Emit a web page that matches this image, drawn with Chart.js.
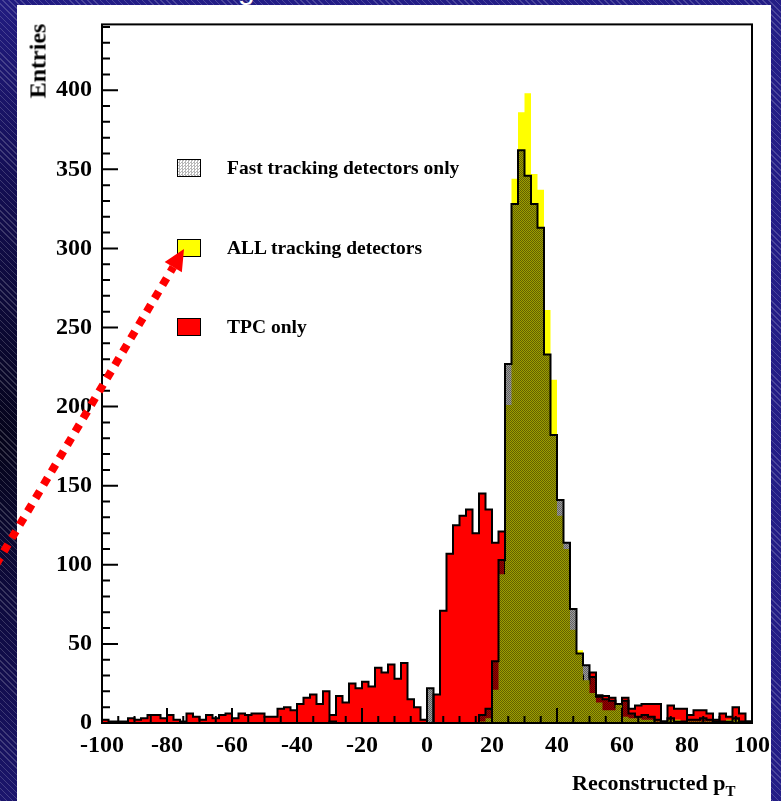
<!DOCTYPE html>
<html>
<head>
<meta charset="utf-8">
<script src="https://cdn.jsdelivr.net/npm/chart.js@4.4.0/dist/chart.umd.min.js"></script>
<style>
  html, body { margin: 0; padding: 0; }
  body {
    width: 781px; height: 801px; overflow: hidden; position: relative;
    background:
      repeating-linear-gradient(45deg, rgba(255,255,255,0.18) 0 1px, transparent 1px 4.3px),
      radial-gradient(ellipse 260px 460px at 0% 55%, #05041a 0%, #130e52 55%, #231d86 100%),
      #231d86;
    font-family: "Liberation Serif", "DejaVu Serif", serif;
  }
  #panel { position: absolute; left: 17px; top: 5px; width: 754px; height: 796px; background: #fff; }
  #topText { position: absolute; left: 238px; top: -26px; font: 30px "Liberation Sans", sans-serif; line-height: 30px; color: #fff; }
  #chartBox { position: absolute; left: 0; top: 0; width: 781px; height: 801px; }
  #yTitle {
    position: absolute; left: 38px; top: 61px; transform: translate(-50%, -50%) rotate(-90deg);
    font-weight: bold; font-size: 24px; white-space: nowrap; color: #000;
  }
  #xTitle { position: absolute; left: 572px; top: 770px; font-size: 22px; font-weight: bold; color: #000; white-space: nowrap; }
  #xTitle sub { font-size: 15px; vertical-align: -6px; }
  .key { position: absolute; left: 177px; width: 22px; height: 16px; border: 1.5px solid #000; }
  .keyText { position: absolute; left: 227px; height: 20px; line-height: 20px; font-weight: bold; font-size: 19.5px; color: #000; white-space: nowrap; }
  #arrow { position: absolute; left: 0; top: 0; pointer-events: none; }
</style>
</head>
<body>
<div id="topText">g</div>
<div id="panel"></div>
<div id="chartBox"><canvas id="histo" width="781" height="801"></canvas></div>
<div id="yTitle">Entries</div>
<div id="xTitle">Reconstructed p<sub>T</sub></div>
<div id="legendBox"></div>
<canvas id="arrow" width="781" height="801"></canvas>

<script>
// histogram binning: 100 bins of width 2 from -100 to 100
const xMin = -100;
const xMax = 100;
const binWidth = 2;
const xTicks = [-100, -80, -60, -40, -20, 0, 20, 40, 60, 80, 100];
const yTicks = [0, 50, 100, 150, 200, 250, 300, 350, 400];
const yMax = 441.6;

const seriesNames = ["Fast tracking detectors only", "ALL tracking detectors", "TPC only"];

// TPC only
const tpcOnly = [
  2, 1, 1, 1, 3, 2, 3, 5, 5, 3,
  5, 2, 1, 6, 4, 2, 5, 3, 5, 6,
  3, 6, 5, 6, 6, 4, 4, 9, 10, 8,
  12, 16, 18, 12, 20, 5, 17, 13, 25, 22,
  26, 23, 35, 32, 37, 28, 38, 15, 10, 2,
  0, 18, 71, 107, 125, 131, 135, 120, 145, 135,
  114, 121, 90, 70, 60, 55, 50, 45, 42, 40,
  38, 35, 33, 30, 25, 32, 17.6, 17, 16, 10,
  16, 9, 11, 12, 12, 12, 1, 11, 9, 9,
  5, 8, 8, 6, 2, 6, 4, 10, 6, 1
];

// ALL tracking detectors
const allTracking = [
  0, 0, 0, 0, 0, 0, 0, 0, 0, 0,
  0, 0, 0, 0, 0, 0, 0, 0, 0, 0,
  0, 0, 0, 0, 0, 0, 0, 0, 0, 0,
  0, 0, 0, 0, 0, 1, 0, 0, 0, 0,
  0, 0, 0, 0, 0, 0, 0, 0, 0, 0,
  0, 0, 0, 0, 0, 0, 0, 0, 1, 3,
  21, 94, 201, 344, 386, 398, 347, 337, 261, 217,
  131, 110, 59, 46, 27, 19, 13, 8, 8, 12,
  4, 3, 3, 2, 2, 1, 1, 2, 2, 1,
  1, 1, 1, 1, 0, 1, 2, 2, 1, 0
];

// Fast tracking detectors only
const fastTracking = [
  0, 0, 0, 0, 0, 0, 0, 0, 0, 0,
  0, 0, 0, 0, 0, 0, 0, 0, 0, 0,
  0, 0, 0, 0, 0, 0, 0, 0, 0, 0,
  0, 0, 0, 0, 0, 1, 0, 0, 0, 0,
  0, 0, 0, 0, 0, 0, 0, 0, 0, 0,
  22, 0, 0, 0, 0, 0, 0, 0, 5, 9,
  39, 103, 227, 328, 362, 346, 328, 313, 233, 182,
  141, 114, 72, 44, 36.5, 29, 16.6, 15, 14, 12,
  14, 6, 4, 5, 4, 2, 1, 3, 1, 1,
  2, 2, 3, 2, 1, 1, 1, 3, 1, 1
];

// step points at the low edge of each bin, closed at xMax
function toSteps(counts) {
  const pts = counts.map((c, i) => ({ x: xMin + i * binWidth, y: c }));
  pts.push({ x: xMax, y: counts[counts.length - 1] });
  return pts;
}

// fine dot pattern for the fast-tracking histogram
function dotPattern() {
  const c = document.createElement("canvas");
  c.width = 2; c.height = 2;
  const g = c.getContext("2d");
  g.fillStyle = "rgba(0,0,0,0.62)";
  g.fillRect(0, 0, 1, 1);
  g.fillRect(1, 1, 1, 1);
  g.fillStyle = "rgba(0,0,0,0.38)";
  g.fillRect(1, 0, 1, 1);
  g.fillRect(0, 1, 1, 1);
  return g.createPattern(c, "repeat");
}

// frame and inward ticks like the ROOT style axes
const frameTicks = {
  id: "frameTicks",
  afterDatasetsDraw(chart) {
    const { ctx, chartArea: a, scales: { x, y } } = chart;
    ctx.save();
    ctx.strokeStyle = "#000";
    ctx.lineWidth = 2;
    ctx.strokeRect(a.left, a.top, a.right - a.left, a.bottom - a.top);
    ctx.beginPath();
    for (let v = xMin; v <= xMax; v += 5) {
      const px = x.getPixelForValue(v);
      const len = xTicks.includes(v) ? 15 : 7;
      ctx.moveTo(px, a.bottom);
      ctx.lineTo(px, a.bottom - len);
    }
    for (let v = 0; v <= yMax; v += 10) {
      const py = y.getPixelForValue(v);
      const len = yTicks.includes(v) ? 16 : 8;
      ctx.moveTo(a.left, py);
      ctx.lineTo(a.left + len, py);
    }
    ctx.stroke();
    ctx.restore();
  }
};

const tickFont = { family: "Liberation Serif", size: 24, weight: "bold" };

new Chart(document.getElementById("histo"), {
  type: "line",
  data: {
    datasets: [
      {
        label: seriesNames[0],
        data: toSteps(fastTracking),
        stepped: true,
        fill: "origin",
        backgroundColor: dotPattern(),
        borderColor: "#000",
        borderWidth: 2,
        pointRadius: 0,
        order: 1
      },
      {
        label: seriesNames[1],
        data: toSteps(allTracking),
        stepped: true,
        fill: "origin",
        backgroundColor: "#ffff00",
        borderColor: "#ffff00",
        borderWidth: 0,
        pointRadius: 0,
        order: 2
      },
      {
        label: seriesNames[2],
        data: toSteps(tpcOnly),
        stepped: true,
        fill: "origin",
        backgroundColor: "#ff0000",
        borderColor: "#000",
        borderWidth: 2,
        pointRadius: 0,
        order: 3
      }
    ]
  },
  options: {
    responsive: false,
    animation: false,
    layout: { padding: { left: 0, right: 29, top: 22, bottom: 0 } },
    plugins: { legend: { display: false }, tooltip: { enabled: false } },
    scales: {
      x: {
        type: "linear",
        min: xMin,
        max: xMax,
        grid: { display: false, drawTicks: false },
        border: { display: false },
        afterBuildTicks: s => { s.ticks = xTicks.map(v => ({ value: v })); },
        ticks: { color: "#000", font: tickFont, padding: 8, maxRotation: 0, autoSkip: false },
        afterFit: s => { s.height = 78; }
      },
      y: {
        min: 0,
        max: yMax,
        grid: { display: false, drawTicks: false },
        border: { display: false },
        afterBuildTicks: s => { s.ticks = yTicks.map(v => ({ value: v })); },
        ticks: { color: "#000", font: tickFont, padding: 10, autoSkip: false },
        afterFit: s => { s.width = 102; }
      }
    }
  },
  plugins: [frameTicks]
});

// legend entries
const keyStyles = [
  { top: 159, bg: "repeating-conic-gradient(#b8b8b8 0 25%, #fff 0 50%) 0 0 / 3px 3px" },
  { top: 239, bg: "#ffff00" },
  { top: 318, bg: "#ff0000" }
];
const legendBox = document.getElementById("legendBox");
seriesNames.forEach((name, i) => {
  const k = document.createElement("div");
  k.className = "key";
  k.style.top = keyStyles[i].top + "px";
  k.style.background = keyStyles[i].bg;
  legendBox.appendChild(k);
  const t = document.createElement("div");
  t.className = "keyText";
  t.style.top = (keyStyles[i].top - 1) + "px";
  t.textContent = name;
  legendBox.appendChild(t);
});

// dotted red arrow pointing at the ALL tracking key
const ac = document.getElementById("arrow").getContext("2d");
const tip = { x: 184, y: 249 };
const tail = { x: -12, y: 578 };
const dx = tip.x - tail.x, dy = tip.y - tail.y;
const len = Math.hypot(dx, dy);
const ux = dx / len, uy = dy / len;
const base = { x: tip.x - 21 * ux, y: tip.y - 21 * uy };
ac.strokeStyle = "#ff0000";
ac.lineWidth = 8;
ac.setLineDash([8, 7.5]);
ac.beginPath();
ac.moveTo(tail.x, tail.y);
ac.lineTo(base.x, base.y);
ac.stroke();
ac.setLineDash([]);
ac.fillStyle = "#ff0000";
ac.beginPath();
ac.moveTo(tip.x, tip.y);
ac.lineTo(base.x - 10 * uy, base.y + 10 * ux);
ac.lineTo(base.x + 10 * uy, base.y - 10 * ux);
ac.closePath();
ac.fill();
</script>
</body>
</html>
